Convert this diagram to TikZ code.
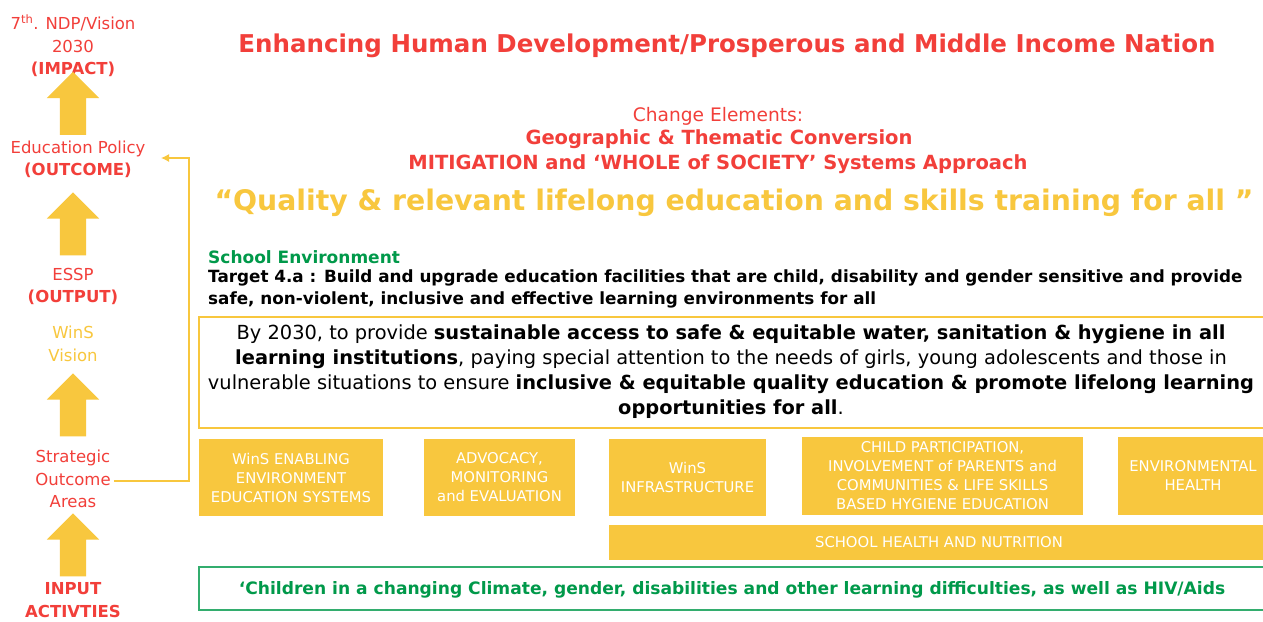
\documentclass[tikz,border=0pt]{standalone}
\usepackage{fontspec}
\setmainfont{DejaVu Sans}
\usetikzlibrary{calc,shapes.arrows,arrows.meta,positioning}

\definecolor{ndpred}{HTML}{F23F3A}
\definecolor{winsyellow}{HTML}{F8C73E}
\definecolor{envgreen}{HTML}{00994A}

\newcommand{\fsz}[1]{\fontsize{#1}{#1}\selectfont}

\tikzset{
	level/.style={text=ndpred, align=center, inner sep=0pt, font=\fontsize{16.5}{22.5}\selectfont},
	uparrow/.style={single arrow, fill=winsyellow, rotate=90, inner xsep=0pt, inner ysep=13pt,
		minimum height=63pt, single arrow head extend=13pt},
	areabox/.style={fill=winsyellow, text=white, align=center, inner sep=0pt,
		font=\fontsize{14.8}{19}\selectfont},
	feedback/.style={winsyellow, line width=1.3pt, -{Latex[length=8pt,width=8pt]}}
}

\begin{document}
\begin{tikzpicture}[x=1pt, y=-1pt]
	\useasboundingbox[fill=white] (0,0) rectangle (1263,621);

	% left column: impact chain
	\node[level] (impact) at (73, 46) {7\textsuperscript{th}. NDP/Vision\\2030\\\textbf{(IMPACT)}};
	\node[uparrow] (a1) at (73, 110) {};
	\node[level] (epol) at (78, 159.5) {Education Policy\\\textbf{(OUTCOME)}};
	\node[uparrow] (a2) at (73, 230.5) {};
	\node[level] (essp) at (73, 286.5) {ESSP\\\textbf{(OUTPUT)}};
	\node[level, text=winsyellow] (wins) at (73, 344) {WinS\\Vision};
	\node[uparrow] (a3) at (73, 411.5) {};
	\node[level] (soa) at (73, 479) {Strategic\\Outcome\\Areas};
	\node[uparrow] (a4) at (73, 551.5) {};
	\node[level] (input) at (73, 600) {\textbf{INPUT}\\\textbf{ACTIVTIES}};

	\coordinate (fbcorner) at (189, 158);
	\coordinate (fbtip) at (161, 158);
	\draw[feedback] ($(soa.east)+(3,2)$) -| (fbcorner) -- (fbtip);

	% headings
	\node[text=ndpred, font=\fsz{24.5}\bfseries] (nation) at (727, 46) {Enhancing Human Development/Prosperous and Middle Income Nation};
	\node[text=ndpred, font=\fsz{18.6}] (change) at (718, 116) {Change Elements:};
	\node[text=ndpred, font=\fsz{19.5}\bfseries] (geo) at (719, 139) {Geographic \& Thematic Conversion};
	\node[text=ndpred, font=\fsz{19.5}\bfseries] (whole) at (718, 164) {MITIGATION and ‘WHOLE of SOCIETY’ Systems Approach};
	\node[text=winsyellow, font=\fsz{28.3}\bfseries] (quality) at (734, 203) {“Quality \& relevant lifelong education and skills training for all ”};

	% target 4.a
	\node[anchor=west, inner sep=0pt, text=envgreen, font=\fsz{17}\bfseries] (school) at (208, 257) {School Environment};
	\node[anchor=north west, inner sep=0pt, align=left, font=\fontsize{16.8}{22}\selectfont\bfseries] (target) at (208, 270)
		{Target 4.a : Build and upgrade education facilities that are child, disability and gender sensitive and provide\\
		safe, non-violent, inclusive and effective learning environments for all};

	\node[draw=winsyellow, line width=1.2pt, minimum width=1068pt, minimum height=111pt, inner sep=0pt] (vision) at (733, 372.5) {};
	\node[align=center, inner sep=0pt, font=\fontsize{19.4}{25}\selectfont] (visiontext) at (731, 372) {By 2030, to provide \textbf{sustainable access to safe \& equitable water, sanitation \& hygiene in all}\\
		\textbf{learning institutions}, paying special attention to the needs of girls, young adolescents and those in\\
		vulnerable situations to ensure \textbf{inclusive \& equitable quality education \& promote lifelong learning}\\
		\textbf{opportunities for all}.};

	% strategic outcome areas
	\node[areabox, minimum width=184pt, minimum height=77pt] (soa1) at (291, 477.5) {WinS ENABLING\\ENVIRONMENT\\EDUCATION SYSTEMS};
	\node[areabox, minimum width=151pt, minimum height=77pt] (soa2) at (499.5, 477.5) {ADVOCACY,\\MONITORING\\and EVALUATION};
	\node[areabox, minimum width=157pt, minimum height=77pt] (soa3) at (687.5, 477.5) {WinS\\INFRASTRUCTURE};
	\node[areabox, minimum width=281pt, minimum height=78pt] (soa4) at (942.5, 476) {CHILD PARTICIPATION,\\INVOLVEMENT of PARENTS and\\COMMUNITIES \& LIFE SKILLS\\BASED HYGIENE EDUCATION};
	\node[areabox, minimum width=150pt, minimum height=78pt] (soa5) at (1193, 476) {ENVIRONMENTAL\\HEALTH};
	\node[areabox, minimum width=660pt, minimum height=35pt] (shn) at (939, 542.5) {SCHOOL HEALTH AND NUTRITION};

	\node[draw=envgreen!80!white, line width=1.3pt, minimum width=1068pt, minimum height=43pt, inner sep=0pt] (climate) at (733, 588.5) {};
	\node[text=envgreen, inner sep=0pt, font=\fsz{17.1}\bfseries] (climatetext) at (732, 590) {‘Children in a changing Climate, gender, disabilities and other learning difficulties, as well as HIV/Aids};
\end{tikzpicture}
\end{document}
